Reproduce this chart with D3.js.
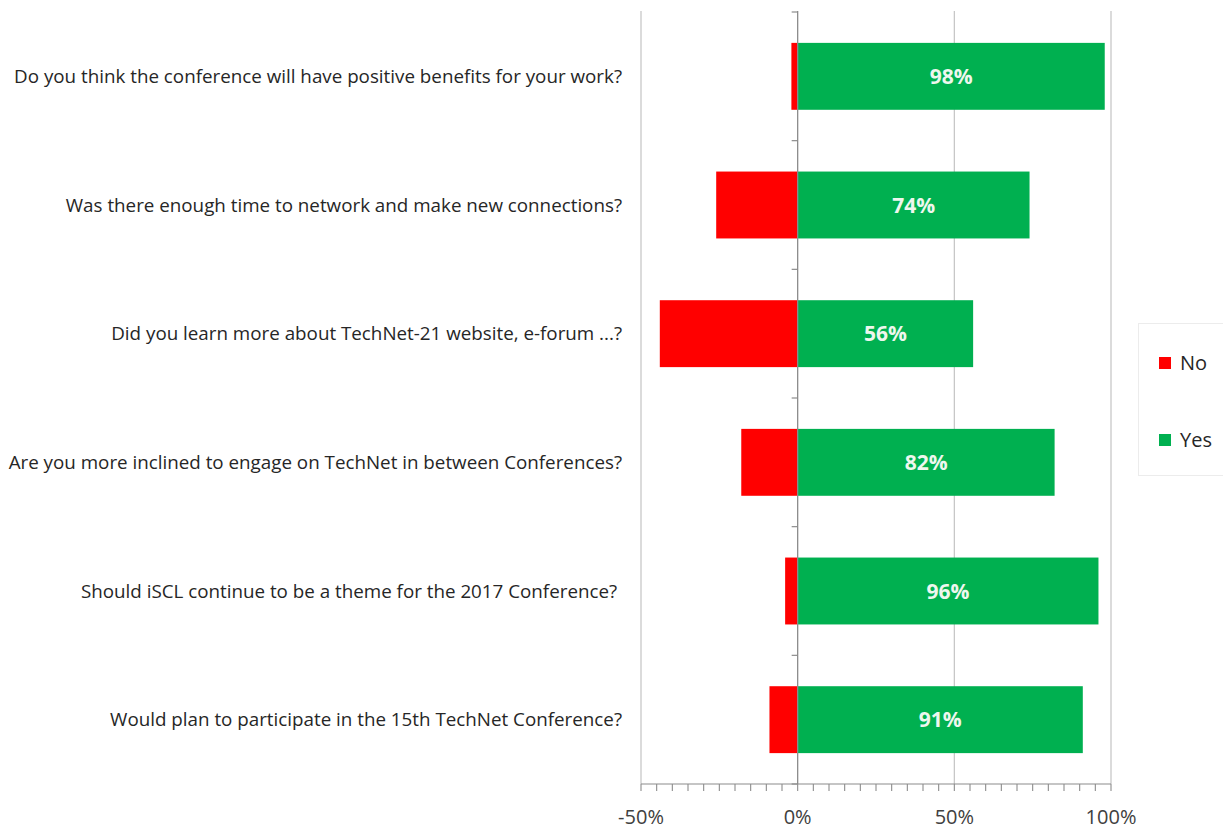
<!DOCTYPE html>
<html>
<head>
<meta charset="utf-8">
<script src="https://cdn.jsdelivr.net/npm/d3@7"></script>
<style>
  html, body { margin: 0; padding: 0; background: #fff; overflow: hidden; }
  svg { display: block; }
  text { white-space: pre; }
</style>
</head>
<body>
<svg id="chart" width="1223" height="830"></svg>
<script>
// Survey questions, top to bottom
const questions = [
  "Do you think the conference will have positive benefits for your work?",
  "Was there enough time to network and make new connections?",
  "Did you learn more about TechNet-21 website, e-forum ...?",
  "Are you more inclined to engage on TechNet in between Conferences?",
  "Should iSCL continue to be a theme for the 2017 Conference? ",
  "Would plan to participate in the 15th TechNet Conference?"
];
// Share of answers, percent
const yesValues = [98, 74, 56, 82, 96, 91];
const noValues  = [2, 26, 44, 18, 4, 9];
const seriesNames = ["No", "Yes"];
const xTicks = [-50, 0, 50, 100];

const colors = { No: "#ff0000", Yes: "#00b050" };

const svg = d3.select("#chart");
const plot = { left: 641, right: 1111, top: 12, bottom: 784 };

const x = d3.scaleLinear().domain([-50, 100]).range([plot.left, plot.right]);
const y = d3.scaleBand().domain(questions)
  .range([plot.top, plot.bottom])
  .paddingInner(0.48).paddingOuter(0.24);

// vertical gridlines at the labelled percentages (except zero, drawn as the axis)
svg.append("g").selectAll("line")
  .data(xTicks.filter(d => d !== 0))
  .join("line")
  .attr("x1", d => x(d)).attr("x2", d => x(d))
  .attr("y1", plot.top - 1).attr("y2", plot.bottom)
  .attr("stroke", "#c3c3c3").attr("stroke-width", 1.2);

const rows = questions.map((q, i) => ({ q, yes: yesValues[i], no: noValues[i] }));

// "No" bars extend left of zero
svg.append("g").selectAll("rect")
  .data(rows).join("rect")
  .attr("x", d => x(-d.no))
  .attr("y", d => y(d.q))
  .attr("width", d => x(0) - x(-d.no))
  .attr("height", y.bandwidth())
  .attr("fill", colors.No);

// "Yes" bars extend right of zero
svg.append("g").selectAll("rect")
  .data(rows).join("rect")
  .attr("x", x(0))
  .attr("y", d => y(d.q))
  .attr("width", d => x(d.yes) - x(0))
  .attr("height", y.bandwidth())
  .attr("fill", colors.Yes);

// value labels inside the Yes bars
svg.append("g").selectAll("text")
  .data(rows).join("text")
  .attr("x", d => (x(0) + x(d.yes)) / 2)
  .attr("y", d => y(d.q) + y.bandwidth() / 2)
  .attr("dy", "0.36em")
  .attr("text-anchor", "middle")
  .attr("font-family", "'Open Sans', sans-serif")
  .attr("font-weight", "bold")
  .attr("font-size", 21)
  .attr("fill", "#eef7ee")
  .text(d => d.yes + "%");

// bottom axis with minor ticks every 5%
const xAxis = svg.append("g").attr("transform", `translate(0,${plot.bottom})`);
xAxis.append("line")
  .attr("x1", plot.left).attr("x2", plot.right)
  .attr("stroke", "#8c8c8c").attr("stroke-width", 1.2);
xAxis.selectAll("line.minor")
  .data(d3.range(-50, 101, 5))
  .join("line").attr("class", "minor")
  .attr("x1", d => x(d)).attr("x2", d => x(d))
  .attr("y1", 0).attr("y2", 7)
  .attr("stroke", "#8c8c8c").attr("stroke-width", 1.1);
xAxis.selectAll("text")
  .data(xTicks).join("text")
  .attr("x", d => x(d))
  .attr("y", 40)
  .attr("text-anchor", "middle")
  .attr("font-family", "'Open Sans', sans-serif")
  .attr("font-size", 20)
  .attr("fill", "#404040")
  .text(d => d + "%");

// zero line acting as the category axis, ticks between categories
const step = y.step();
const boundaries = d3.range(questions.length + 1).map(i => plot.top + i * step);
svg.append("line")
  .attr("x1", x(0)).attr("x2", x(0))
  .attr("y1", plot.top - 1).attr("y2", plot.bottom)
  .attr("stroke", "#8c8c8c").attr("stroke-width", 1.3);
svg.append("g").selectAll("line")
  .data(boundaries).join("line")
  .attr("x1", x(0) - 6).attr("x2", x(0))
  .attr("y1", d => d).attr("y2", d => d)
  .attr("stroke", "#8c8c8c").attr("stroke-width", 1.2);

// question labels
svg.append("g").selectAll("text")
  .data(questions).join("text")
  .attr("x", 622)
  .attr("y", d => y(d) + y.bandwidth() / 2)
  .attr("dy", "0.35em")
  .attr("text-anchor", "end")
  .attr("font-family", "'Open Sans', sans-serif")
  .attr("font-size", 18.8)
  .attr("fill", "#262626")
  .text(d => d);

// legend
const legend = svg.append("g");
legend.append("rect")
  .attr("x", 1138.5).attr("y", 323.5)
  .attr("width", 100).attr("height", 152)
  .attr("fill", "#fff").attr("stroke", "#ececec");
const legendY = { No: 363, Yes: 440 };
seriesNames.forEach(name => {
  legend.append("rect")
    .attr("x", 1159).attr("y", legendY[name] - 6)
    .attr("width", 12).attr("height", 12)
    .attr("fill", colors[name]);
  legend.append("text")
    .attr("x", 1180).attr("y", legendY[name])
    .attr("dy", "0.36em")
    .attr("font-family", "'Open Sans', sans-serif")
    .attr("font-size", 20)
    .attr("fill", "#262626")
    .text(name);
});
</script>
</body>
</html>
